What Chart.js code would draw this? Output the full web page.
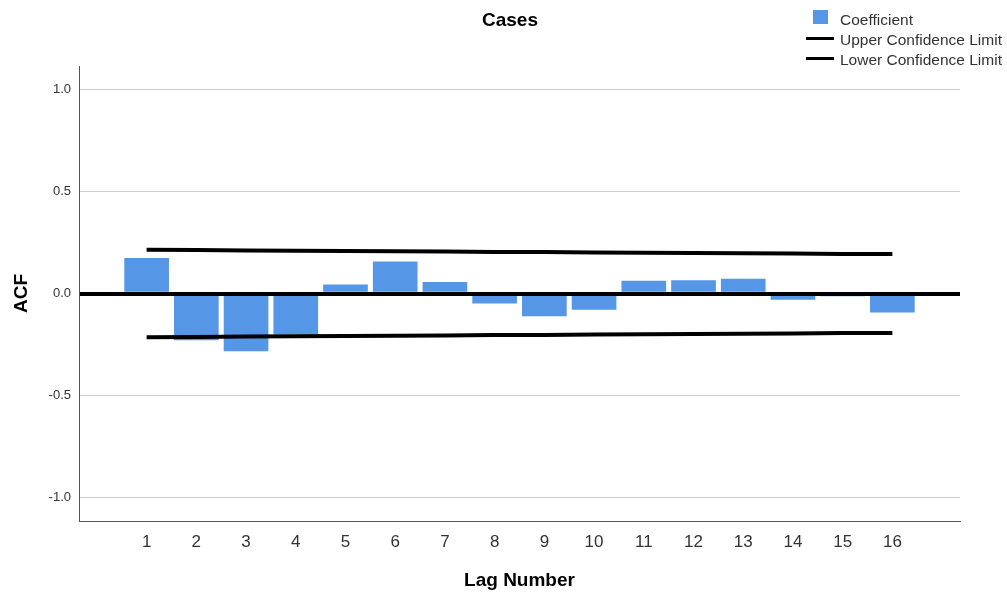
<!DOCTYPE html>
<html>
<head>
<meta charset="utf-8">
<script src="https://cdn.jsdelivr.net/npm/chart.js@4.4.1/dist/chart.umd.min.js"></script>
<style>
  html, body { margin: 0; padding: 0; background: #fff; }
  #wrap { position: relative; width: 1007px; height: 593px; font-family: "Liberation Sans", Arial, sans-serif; }
  #chart { position: absolute; left: 0; top: 0; }
  #title { position: absolute; left: 410px; width: 200px; top: 10px; text-align: center; font-weight: bold; font-size: 19px; line-height: 19px; color: #000; }
  .lg-row { position: absolute; left: 800px; height: 20px; line-height: 20px; font-size: 15.5px; color: #333; white-space: nowrap; }
  .lg-row span.t { position: absolute; left: 40px; top: 0; }
  .lg-sq { position: absolute; left: 13px; width: 15px; height: 14px; background: #5596e6; }
  .lg-ln { position: absolute; left: 6px; width: 28px; height: 3px; background: #000; }
</style>
</head>
<body>
<div id="wrap">
  <canvas id="chart" width="1007" height="593"></canvas>
  <div id="title">Cases</div>
  <div class="lg-row" style="top:9.5px"><div class="lg-sq" style="top:0.5px"></div><span class="t">Coefficient</span></div>
  <div class="lg-row" style="top:29.5px"><div class="lg-ln" style="top:7.5px"></div><span class="t">Upper Confidence Limit</span></div>
  <div class="lg-row" style="top:49.5px"><div class="lg-ln" style="top:7.5px"></div><span class="t">Lower Confidence Limit</span></div>
</div>
<script>
// ---- data ----
const lags = [1, 2, 3, 4, 5, 6, 7, 8, 9, 10, 11, 12, 13, 14, 15, 16];
const coefficient = [0.172, -0.228, -0.282, -0.199, 0.042, 0.155, 0.055, -0.048, -0.110, -0.078, 0.061, 0.063, 0.071, -0.029, -0.012, -0.091];
const upperLimit = [0.214, 0.213, 0.211, 0.210, 0.208, 0.207, 0.206, 0.204, 0.203, 0.201, 0.200, 0.199, 0.197, 0.196, 0.194, 0.193];
const lowerLimit = [-0.214, -0.213, -0.211, -0.210, -0.208, -0.207, -0.206, -0.204, -0.203, -0.201, -0.200, -0.199, -0.197, -0.196, -0.194, -0.193];
const yTickValues = [-1.0, -0.5, 0.0, 0.5, 1.0];
const xRange = [-0.36, 17.36];
const yRange = [-1.115, 1.115];

const FONT = '"Liberation Sans", Arial, sans-serif';
Chart.defaults.font.family = FONT;

const pts = (arr) => lags.map((l, i) => ({ x: l, y: arr[i] }));

new Chart(document.getElementById('chart'), {
  type: 'bar',
  data: {
    datasets: [
      {
        type: 'bar',
        label: 'Coefficient',
        data: pts(coefficient),
        backgroundColor: '#5596e6',
        borderWidth: 0,
        barThickness: 44,
        order: 2
      },
      {
        type: 'line',
        label: 'Upper Confidence Limit',
        data: pts(upperLimit),
        borderColor: '#000',
        borderWidth: 4,
        pointRadius: 0,
        fill: false,
        tension: 0,
        order: 1
      },
      {
        type: 'line',
        label: 'Lower Confidence Limit',
        data: pts(lowerLimit),
        borderColor: '#000',
        borderWidth: 4,
        pointRadius: 0,
        fill: false,
        tension: 0,
        order: 1
      }
    ]
  },
  options: {
    responsive: false,
    animation: false,
    layout: { padding: { top: 66, right: 47, left: 0, bottom: 0 } },
    plugins: {
      legend: { display: false },
      title: { display: false },
      tooltip: { enabled: false }
    },
    scales: {
      x: {
        type: 'linear',
        min: xRange[0],
        max: xRange[1],
        offset: false,
        afterBuildTicks: (s) => { s.ticks = lags.map(v => ({ value: v })); },
        afterFit: (s) => { s.height = 72; },
        ticks: {
          autoSkip: false,
          maxRotation: 0,
          color: '#333',
          font: { size: 17 },
          padding: 11,
          callback: (v) => String(v)
        },
        grid: { display: false, drawTicks: false },
        border: { display: true, color: '#555', width: 1 },
        title: {
          display: true,
          text: 'Lag Number',
          color: '#000',
          font: { size: 19, weight: 'bold' },
          padding: { top: 0, bottom: 1 }
        }
      },
      y: {
        type: 'linear',
        min: yRange[0],
        max: yRange[1],
        afterBuildTicks: (s) => { s.ticks = yTickValues.map(v => ({ value: v })); },
        afterFit: (s) => { s.width = 79; },
        ticks: {
          color: '#333',
          font: { size: 13 },
          padding: 8,
          callback: (v) => Number(v).toFixed(1)
        },
        grid: {
          drawTicks: false,
          z: 1,
          color: (c) => (c.tick && c.tick.value === 0 ? '#000' : '#cfcfcf'),
          lineWidth: (c) => (c.tick && c.tick.value === 0 ? 4 : 1)
        },
        border: { display: true, color: '#555', width: 1, z: 2 },
        title: {
          display: true,
          text: 'ACF',
          color: '#000',
          font: { size: 19, weight: 'bold' },
          padding: { top: 10, bottom: 0 }
        }
      }
    }
  }
});
</script>
</body>
</html>
